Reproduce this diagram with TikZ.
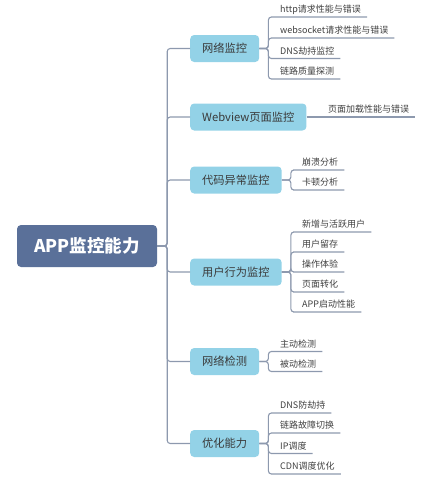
\documentclass[tikz,border=0pt]{standalone}
\usepackage{fontspec}
\setmainfont{Noto Sans CJK SC}
\definecolor{rootfill}{HTML}{5A7099}
\definecolor{lonefill}{HTML}{93D2E7}
\definecolor{lonetext}{HTML}{3A3A3A}
\definecolor{linec}{HTML}{8D99AE}
\definecolor{leaftext}{HTML}{404040}
\tikzset{
  rootbox/.style={draw=none, fill=rootfill, rounded corners=4pt, minimum width=140pt, minimum height=42pt,
    text=white, font=\fontsize{17.5}{20}\selectfont\bfseries, inner sep=0pt},
  lonebox/.style={draw=none, fill=lonefill, rounded corners=4pt, minimum height=27pt, inner xsep=12pt, inner ysep=0pt,
    text=lonetext, font=\fontsize{11.25}{13}\selectfont, anchor=west},
  leafbox/.style={anchor=south west, inner xsep=6pt, inner ysep=2.5pt, text height=7pt, text depth=1.5pt,
    text=leaftext, font=\fontsize{9}{11}\selectfont},
  conn/.style={draw=linec, line width=1.1pt, rounded corners=3pt},
}
\begin{document}
\begin{tikzpicture}[x=1pt,y=-1pt]
\useasboundingbox (0,0) rectangle (426,482);
\node[rootbox] (root) at (87,246) {APP监控能力};
% level one
\node[lonebox] (a) at (190,48.5) {网络监控};
\node[lonebox] (b) at (190,117) {Webview页面监控};
\node[lonebox] (c) at (190,180) {代码异常监控};
\node[lonebox] (d) at (190,272) {用户行为监控};
\node[lonebox] (e) at (190,361.5) {网络检测};
\node[lonebox] (f) at (190,443.5) {优化能力};
\foreach \n in {a,b,c,d,e,f}{
  \draw[conn] (root.east) -- ++(10,0) |- (\n.west);
}
% leaves of a
\node[leafbox] (a1) at (274,17) {http请求性能与错误};
\node[leafbox] (a2) at (274,38) {websocket请求性能与错误};
\node[leafbox] (a3) at (274,58.5) {DNS劫持监控};
\node[leafbox] (a4) at (274,79) {链路质量探测};
\foreach \n in {a1,a2,a3,a4}{
  \draw[conn] (a.east) -- ++(9,0) |- (\n.south west) -- (\n.south east);
}
% leaf of b
\node[leafbox] (b1) at (322,117) {页面加载性能与错误};
\draw[conn] (b.east) -- (b1.south west) -- (b1.south east);
% leaves of c
\node[leafbox] (c1) at (296,170) {崩溃分析};
\node[leafbox] (c2) at (296,190) {卡顿分析};
\foreach \n in {c1,c2}{
  \draw[conn] (c.east) -- ++(9,0) |- (\n.south west) -- (\n.south east);
}
% leaves of d
\node[leafbox] (d1) at (296,232) {新增与活跃用户};
\node[leafbox] (d2) at (296,252) {用户留存};
\node[leafbox] (d3) at (296,272) {操作体验};
\node[leafbox] (d4) at (296,292) {页面转化};
\node[leafbox] (d5) at (296,312) {APP启动性能};
\foreach \n in {d1,d2,d3,d4,d5}{
  \draw[conn] (d.east) -- ++(9,0) |- (\n.south west) -- (\n.south east);
}
% leaves of e
\node[leafbox] (e1) at (274,351.5) {主动检测};
\node[leafbox] (e2) at (274,371.5) {被动检测};
\foreach \n in {e1,e2}{
  \draw[conn] (e.east) -- ++(9,0) |- (\n.south west) -- (\n.south east);
}
% leaves of f
\node[leafbox] (f1) at (274,413) {DNS防劫持};
\node[leafbox] (f2) at (274,433) {链路故障切换};
\node[leafbox] (f3) at (274,453.5) {IP调度};
\node[leafbox] (f4) at (274,474) {CDN调度优化};
\foreach \n in {f1,f2,f3,f4}{
  \draw[conn] (f.east) -- ++(9,0) |- (\n.south west) -- (\n.south east);
}
\end{tikzpicture}
\end{document}
